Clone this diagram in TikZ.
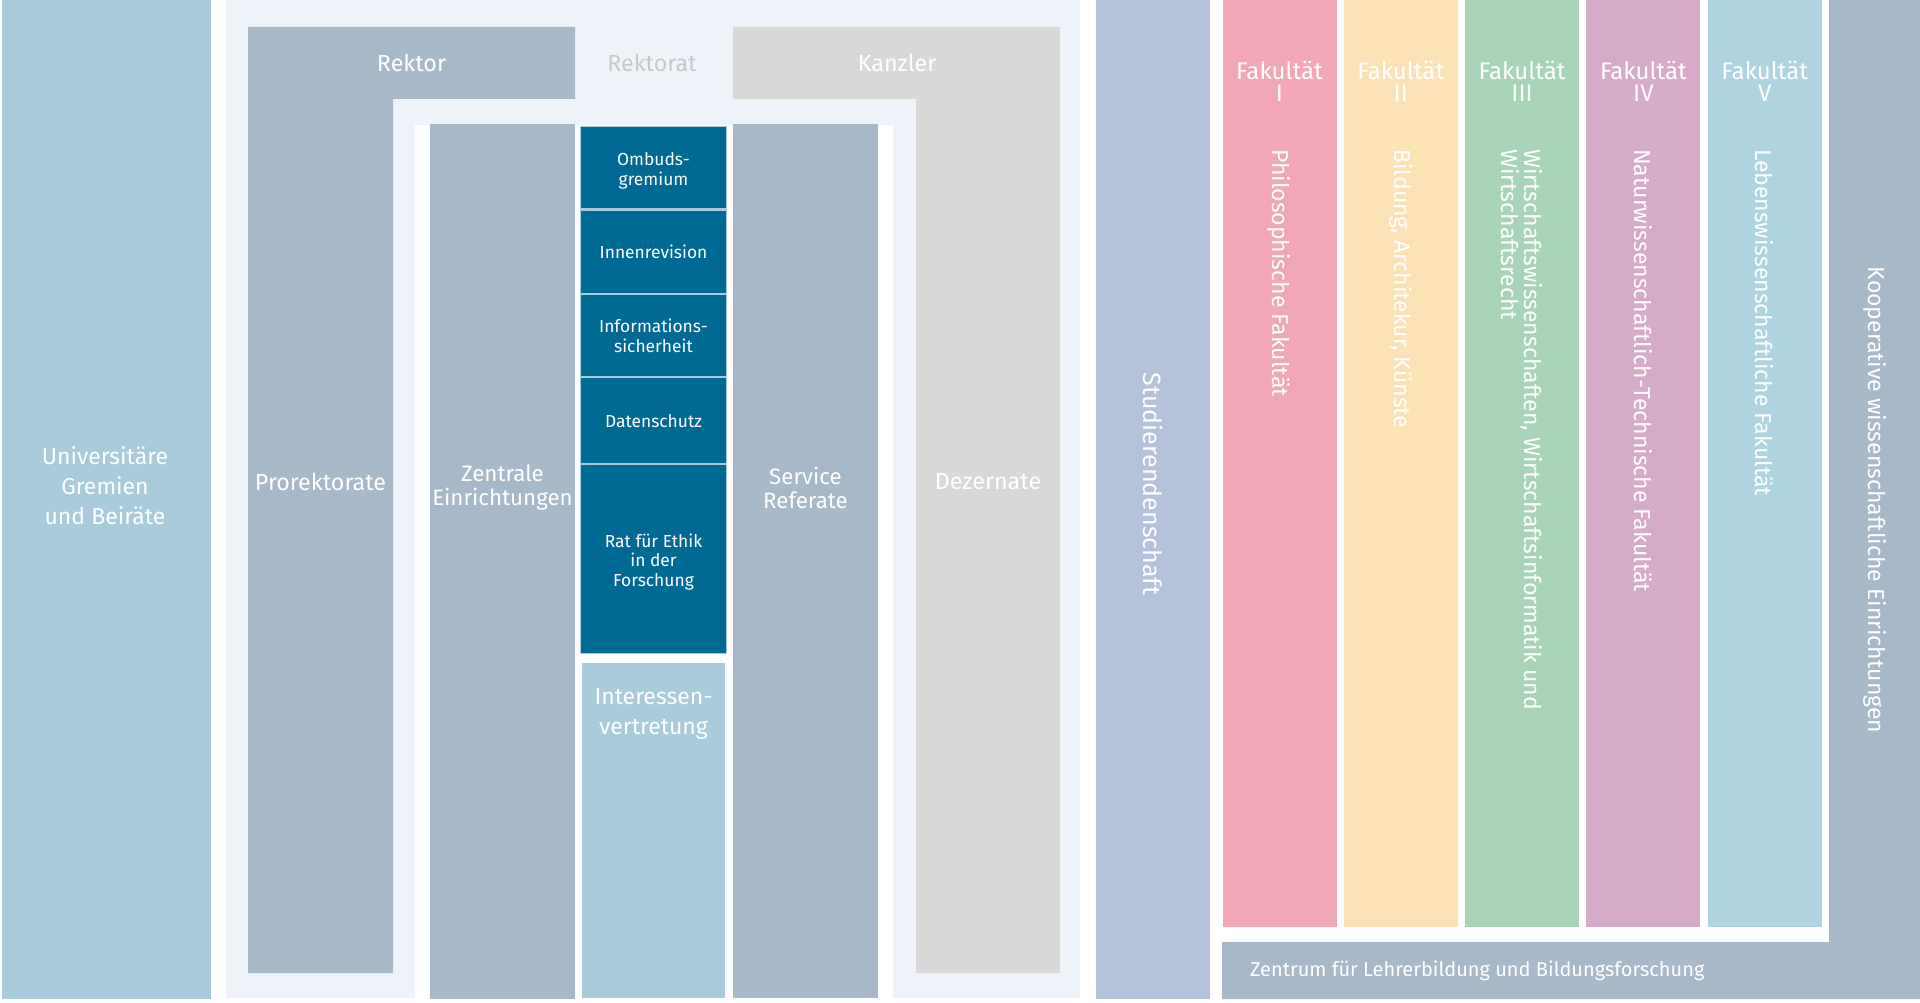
\documentclass[tikz,border=0pt]{standalone}
\usepackage{fontspec}
\setmainfont{Fira Sans}

\definecolor{gremien}{HTML}{A7CBDA}
\definecolor{rahmen}{HTML}{EEF3FA}
\definecolor{rektor}{HTML}{A7B8C8}
\definecolor{kanzler}{HTML}{D8D8D8}
\definecolor{grautext}{HTML}{C8C8C8}
\definecolor{stab}{HTML}{006A94}
\definecolor{stude}{HTML}{B4C1DA}
\definecolor{fakI}{HTML}{F1A7B5}
\definecolor{fakII}{HTML}{FBE3B6}
\definecolor{fakIII}{HTML}{A7D4B7}
\definecolor{fakIV}{HTML}{D5ABC9}
\definecolor{fakV}{HTML}{AED4E1}

\begin{document}
\begin{tikzpicture}[x=1pt,y=-1pt]
	\tikzstyle{every node}=[inner sep=0pt, text=white, align=center]
	\tikzstyle{lblbig}=[font=\fontsize{23.3}{24}\selectfont]
	\tikzstyle{lblwide}=[font=\fontsize{23}{30}\selectfont]
	\tikzstyle{lblsmall}=[font=\fontsize{17.4}{19.5}\selectfont]
	\tikzstyle{lblvert}=[rotate=-90, anchor=west, align=left, font=\fontsize{23}{23}\selectfont]
	\useasboundingbox (0,0) rectangle (1920,1003);
	\fill[white] (0,0) rectangle (1920,1003);
	% left and rectorate frame
	\fill[gremien] (2,0) rectangle (211,999);
	\fill[rahmen] (226,0) rectangle (1080,998);
	\fill[white] (415,125) rectangle (893,1003);
	\fill[rektor] (248,27) -- (575,27) -- (575,99) -- (393,99) -- (393,973) -- (248,973) -- cycle;
	\fill[kanzler] (733,27) -- (1060,27) -- (1060,973) -- (916,973) -- (916,99) -- (733,99) -- cycle;
	\fill[rektor] (430,124) rectangle (575,999);
	\fill[rektor] (733,124) rectangle (878,998);
	% staff units
	\fill[gremien] (580,126) rectangle (727,654);
	\fill[stab] (581,127) rectangle (726,208);
	\fill[stab] (581,211) rectangle (726,293);
	\fill[stab] (581,295) rectangle (726,376);
	\fill[stab] (581,378) rectangle (726,463);
	\fill[stab] (581,465) rectangle (726,653);
	\fill[gremien] (582,663) rectangle (725,998);
	% right part
	\fill[stude] (1096,0) rectangle (1210,999);
	\fill[fakI] (1222.5,0) rectangle (1336.5,927);
	\fill[fakII] (1343.8,0) rectangle (1457.8,927);
	\fill[fakIII] (1465.1,0) rectangle (1579.1,927);
	\fill[fakIV] (1586.4,0) rectangle (1700.4,927);
	\fill[fakV] (1707.7,0) rectangle (1821.7,927);
	\fill[rektor] (1829,0) -- (1920,0) -- (1920,999) -- (1222,999) -- (1222,942) -- (1829,942) -- cycle;
	% labels
	\draw (105,486) node (gremium) [lblwide] {Universitäre\\Gremien\\und Beiräte};
	\draw (411.5,63) node (rektorat1) [lblbig] {Rektor};
	\draw (652,63) node (rektorat) [lblbig, text=grautext] {Rektorat};
	\draw (897,63) node (kanzler1) [lblbig] {Kanzler};
	\draw (320.5,482) node (prorek) [lblbig] {Prorektorate};
	\draw (502.5,488) node (zentral) [lblbig, font=\fontsize{22.3}{24}\selectfont] {Zentrale\\Einrichtungen};
	\draw (805.5,488) node (service) [lblbig, font=\fontsize{22.3}{24}\selectfont] {Service\\Referate};
	\draw (988,482) node (dezern) [lblbig] {Dezernate};
	\draw (653.5,171) node (ombuds) [lblsmall] {Ombuds-\\gremium};
	\draw (653.5,252) node (revision) [lblsmall] {Innenrevision};
	\draw (653.5,336) node (infosich) [lblsmall] {Informations-\\sicherheit};
	\draw (653.5,421) node (datensch) [lblsmall] {Datenschutz};
	\draw (653.5,562) node (ethik) [lblsmall] {Rat für Ethik\\in der\\Forschung};
	\draw (653.5,714) node (interess) [lblwide] {Interessen-\\vertretung};
	\draw (1153,484) node (studis) [lblbig, rotate=-90, font=\fontsize{25}{25}\selectfont] {Studierendenschaft};
	\draw (1279.5,81) node (kopfI) [lblbig, font=\fontsize{24}{22}\selectfont] {Fakultät\\I};
	\draw (1400.8,81) node (kopfII) [lblbig, font=\fontsize{24}{22}\selectfont] {Fakultät\\II};
	\draw (1522.1,81) node (kopfIII) [lblbig, font=\fontsize{24}{22}\selectfont] {Fakultät\\III};
	\draw (1643.4,81) node (kopfIV) [lblbig, font=\fontsize{24}{22}\selectfont] {Fakultät\\IV};
	\draw (1764.7,81) node (kopfV) [lblbig, font=\fontsize{24}{22}\selectfont] {Fakultät\\V};
	\draw (1279.5,149) node (nameI) [lblvert] {Philosophische Fakultät};
	\draw (1400.8,149) node (nameII) [lblvert] {Bildung, Architekur, Künste};
	\draw (1522.1,149) node (nameIII) [lblvert] {Wirtschaftswissenschaften, Wirtschaftsinformatik und\\Wirtschaftsrecht};
	\draw (1643.4,149) node (nameIV) [lblvert] {Naturwissenschaftlich-Technische Fakultät};
	\draw (1764.7,149) node (nameV) [lblvert] {Lebenswissenschaftliche Fakultät};
	\draw (1874.5,500) node (koop) [lblvert, anchor=center] {Kooperative wissenschaftliche Einrichtungen};
	\draw (1250,971) node (zlb) [font=\fontsize{20}{24}\selectfont, anchor=west] {Zentrum für Lehrerbildung und Bildungsforschung};
\end{tikzpicture}
\end{document}
